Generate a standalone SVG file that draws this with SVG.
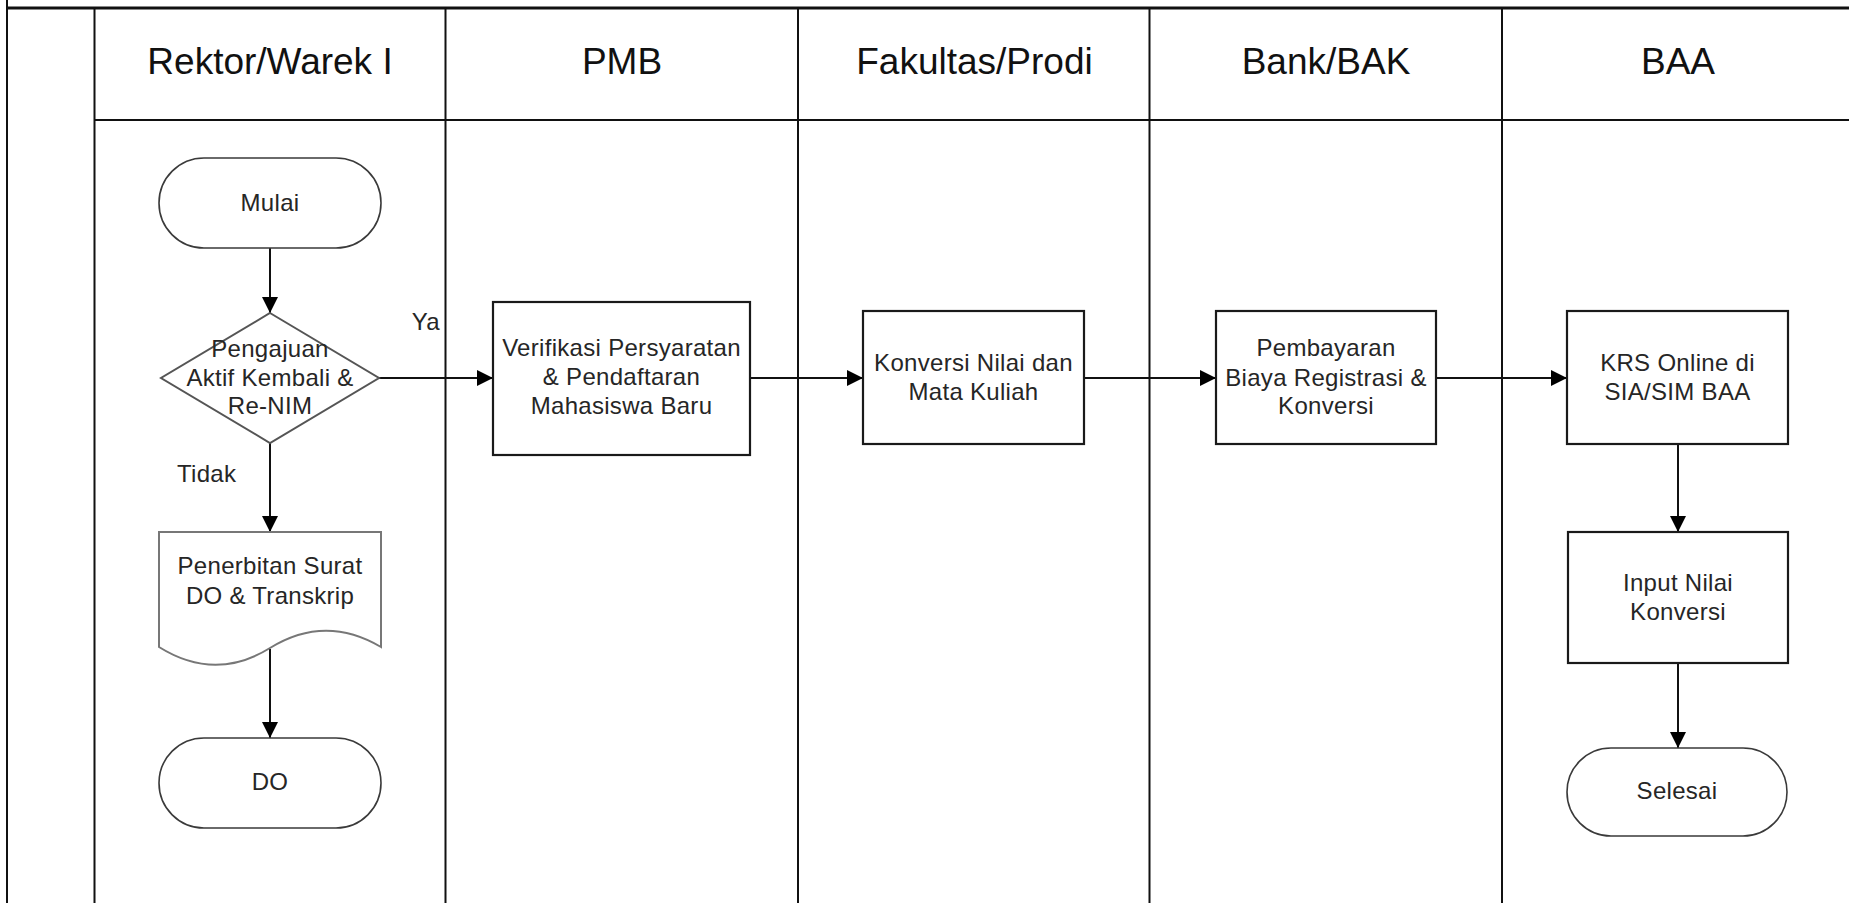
<svg xmlns="http://www.w3.org/2000/svg" width="1849" height="903" viewBox="0 0 1849 903">
  <style>
    .lane { stroke: #111; stroke-width: 2; fill: none; }
    .frame { stroke: #111; stroke-width: 3.2; fill: none; }
    .head { font-family: "Liberation Sans", Arial, sans-serif; font-size: 37px; fill: #111; text-anchor: middle; }
    .lbl { font-family: "Liberation Sans", Arial, sans-serif; font-size: 24px; fill: #262626; text-anchor: middle; letter-spacing: 0.3px; }
    .box { fill: #fff; stroke: #1a1a1a; stroke-width: 2.2; }
    .term { fill: #fff; stroke: #3a3a3a; stroke-width: 1.6; }
    .dec { fill: #fff; stroke: #555; stroke-width: 2; }
    .doc { fill: #fff; stroke: #777; stroke-width: 2; }
    .conn { stroke: #111; stroke-width: 2; fill: none; }
  </style>
  <defs>
    <marker id="arrow" markerUnits="userSpaceOnUse" markerWidth="16" markerHeight="16" refX="16" refY="8" orient="auto">
      <path d="M0,0 L16,8 L0,16 z" fill="#000"/>
    </marker>
  </defs>

  <rect width="1849" height="903" fill="#fff"/>

  <!-- swimlane frame -->
  <g id="swimlanes">
    <line class="lane" x1="7" y1="0" x2="7" y2="903"/>
    <line class="frame" x1="7" y1="8" x2="1849" y2="8"/>
    <line class="lane" x1="94.5" y1="8" x2="94.5" y2="903"/>
    <line class="lane" x1="94.5" y1="120" x2="1849" y2="120"/>
    <line class="lane" x1="445.5" y1="8" x2="445.5" y2="903"/>
    <line class="lane" x1="798" y1="8" x2="798" y2="903"/>
    <line class="lane" x1="1149.5" y1="8" x2="1149.5" y2="903"/>
    <line class="lane" x1="1502" y1="8" x2="1502" y2="903"/>
    <text class="head" x="270" y="74">Rektor/Warek I</text>
    <text class="head" x="622" y="74">PMB</text>
    <text class="head" x="974.5" y="74">Fakultas/Prodi</text>
    <text class="head" x="1326" y="74">Bank/BAK</text>
    <text class="head" x="1678" y="74">BAA</text>
  </g>

  <!-- connectors -->
  <g id="connectors">
    <line class="conn" x1="270" y1="248" x2="270" y2="313" marker-end="url(#arrow)"/>
    <line class="conn" x1="379" y1="378" x2="493" y2="378" marker-end="url(#arrow)"/>
    <line class="conn" x1="270" y1="443" x2="270" y2="532" marker-end="url(#arrow)"/>
    <line class="conn" x1="270" y1="649" x2="270" y2="738" marker-end="url(#arrow)"/>
    <line class="conn" x1="750" y1="378" x2="863" y2="378" marker-end="url(#arrow)"/>
    <line class="conn" x1="1084" y1="378" x2="1216" y2="378" marker-end="url(#arrow)"/>
    <line class="conn" x1="1436" y1="378" x2="1567" y2="378" marker-end="url(#arrow)"/>
    <line class="conn" x1="1678" y1="444" x2="1678" y2="532" marker-end="url(#arrow)"/>
    <line class="conn" x1="1678" y1="663" x2="1678" y2="748" marker-end="url(#arrow)"/>
    <text class="lbl" x="440" y="330" style="text-anchor:end">Ya</text>
    <text class="lbl" x="177" y="482" style="text-anchor:start">Tidak</text>
  </g>

  <g id="mulai">
    <rect class="term" x="159" y="158" width="222" height="90" rx="45" ry="45"/>
    <text class="lbl" x="270" y="211">Mulai</text>
  </g>

  <g id="pengajuan">
    <polygon class="dec" points="270,313 379,378 270,443 161,378"/>
    <text class="lbl" x="270" y="357">Pengajuan</text>
    <text class="lbl" x="270" y="386">Aktif Kembali &amp;</text>
    <text class="lbl" x="270" y="414">Re-NIM</text>
  </g>

  <g id="penerbitan">
    <path class="doc" d="M159,532 H381 V647 Q325,614 270,648 Q215,682 159,647 Z"/>
    <text class="lbl" x="270" y="574">Penerbitan Surat</text>
    <text class="lbl" x="270" y="604">DO &amp; Transkrip</text>
  </g>

  <g id="do">
    <rect class="term" x="159" y="738" width="222" height="90" rx="45" ry="45"/>
    <text class="lbl" x="270" y="790">DO</text>
  </g>

  <g id="verifikasi">
    <rect class="box" x="493" y="302" width="257" height="153"/>
    <text class="lbl" x="621.5" y="356">Verifikasi Persyaratan</text>
    <text class="lbl" x="621.5" y="385">&amp; Pendaftaran</text>
    <text class="lbl" x="621.5" y="414">Mahasiswa Baru</text>
  </g>

  <g id="konversi">
    <rect class="box" x="863" y="311" width="221" height="133"/>
    <text class="lbl" x="973.5" y="371">Konversi Nilai dan</text>
    <text class="lbl" x="973.5" y="400">Mata Kuliah</text>
  </g>

  <g id="pembayaran">
    <rect class="box" x="1216" y="311" width="220" height="133"/>
    <text class="lbl" x="1326" y="356">Pembayaran</text>
    <text class="lbl" x="1326" y="386">Biaya Registrasi &amp;</text>
    <text class="lbl" x="1326" y="414">Konversi</text>
  </g>

  <g id="krs">
    <rect class="box" x="1567" y="311" width="221" height="133"/>
    <text class="lbl" x="1677.5" y="371">KRS Online di</text>
    <text class="lbl" x="1677.5" y="400">SIA/SIM BAA</text>
  </g>

  <g id="input-nilai">
    <rect class="box" x="1568" y="532" width="220" height="131"/>
    <text class="lbl" x="1678" y="591">Input Nilai</text>
    <text class="lbl" x="1678" y="620">Konversi</text>
  </g>

  <g id="selesai">
    <rect class="term" x="1567" y="748" width="220" height="88" rx="44" ry="44"/>
    <text class="lbl" x="1677" y="799">Selesai</text>
  </g>
</svg>
